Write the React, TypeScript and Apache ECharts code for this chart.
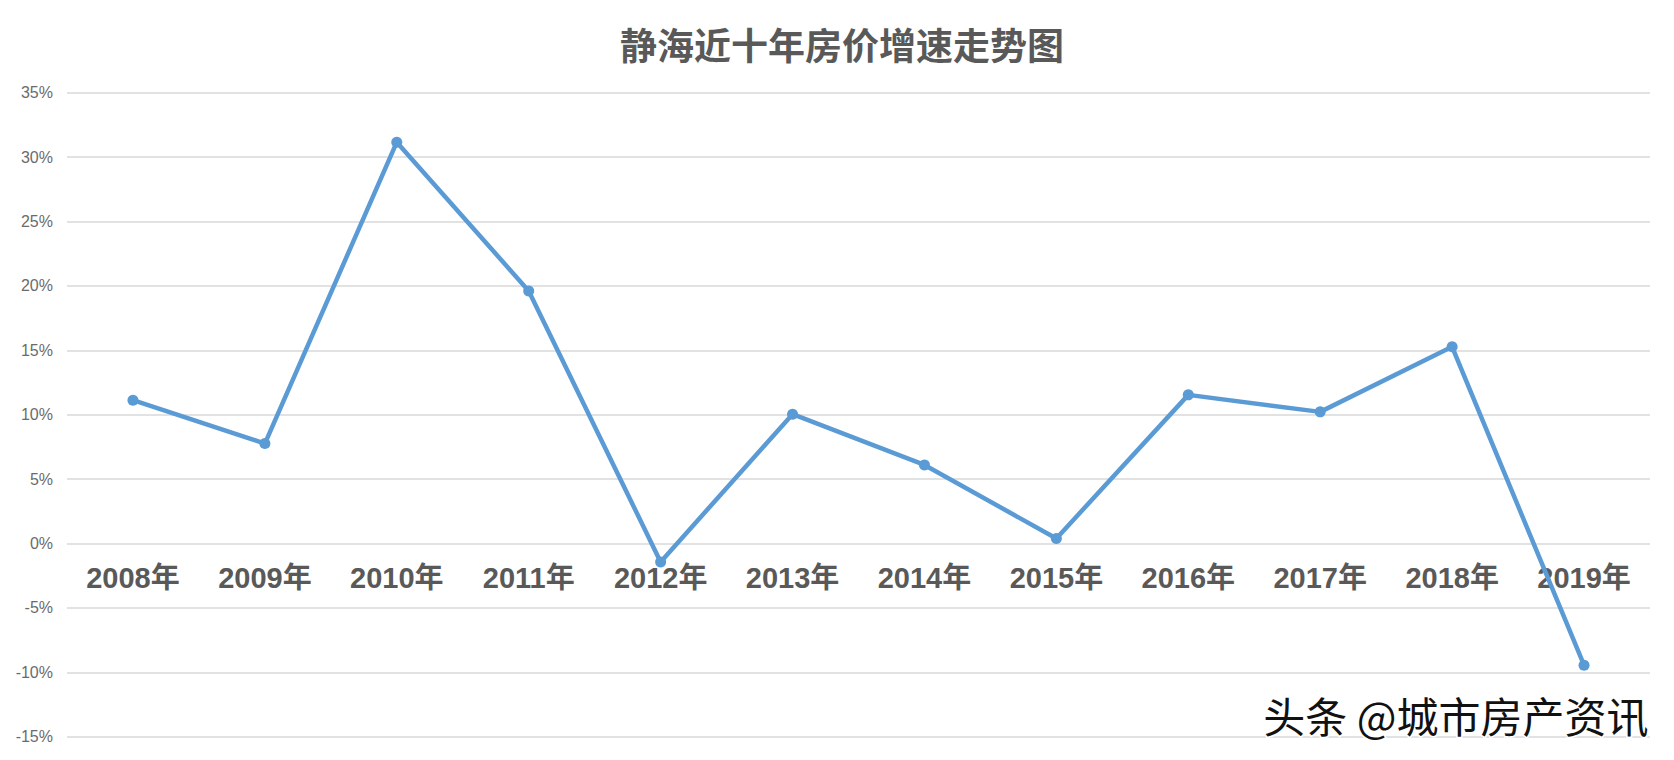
import React, { useEffect, useRef } from "react";
import * as echarts from "echarts";

const categories = ["2008年", "2009年", "2010年", "2011年", "2012年", "2013年", "2014年", "2015年", "2016年", "2017年", "2018年", "2019年"];
const growth = [11.13, 7.76, 31.16, 19.61, -1.43, 10.04, 6.1, 0.39, 11.54, 10.22, 15.27, -9.45];
const yMin = -15;
const yMax = 35;
const yStep = 5;
const titleText = "静海近十年房价增速走势图";
const watermark = "头条 @城市房产资讯";

const GRID_TOP = 92.7;
const GRID_BOTTOM = 23.3;
const CHART_H = 760;

export default function App() {
  const ref = useRef<HTMLDivElement>(null);
  useEffect(() => {
    if (!ref.current) return;
    const chart = echarts.init(ref.current, null, { renderer: "svg" });
    const plotH = CHART_H - GRID_TOP - GRID_BOTTOM;
    const zeroFromBottom = (0 - yMin) / (yMax - yMin) * plotH;
    chart.setOption({
      animation: false,
      backgroundColor: "#ffffff",
      title: {
        text: titleText,
        left: 837,
        textAlign: "center",
        top: 20,
        textStyle: {
          fontFamily: "'Noto Sans CJK SC', sans-serif",
          fontSize: 37,
          fontWeight: "bold",
          color: "#595959",
        },
      },
      grid: { left: 67, right: 24, top: GRID_TOP, bottom: GRID_BOTTOM, containLabel: false, outerBoundsMode: "none" },
      xAxis: {
        type: "category",
        data: categories,
        boundaryGap: true,
        position: "bottom",
        offset: -zeroFromBottom,
        axisLine: { show: false, onZero: false },
        axisTick: { show: false },
        axisLabel: {
          margin: 20,
          fontSize: 29,
          fontWeight: "bold",
          color: "#595959",
          fontFamily: "'Liberation Sans', 'Noto Sans CJK SC', sans-serif",
        },
      },
      yAxis: {
        type: "value",
        min: yMin,
        max: yMax,
        interval: yStep,
        axisLine: { show: false },
        axisTick: { show: false },
        axisLabel: {
          formatter: "{value}%",
          margin: 14,
          fontSize: 16,
          color: "#6b6b6b",
          fontFamily: "'Liberation Sans Narrow', 'Liberation Sans', sans-serif",
        },
        splitLine: { lineStyle: { color: "#d9d9d9", width: 1.6 } },
      },
      series: [
        {
          type: "line",
          data: growth,
          symbol: "circle",
          symbolSize: 11,
          itemStyle: { color: "#5B9BD5" },
          lineStyle: { color: "#5B9BD5", width: 4.5 },
          z: 3,
        },
      ],
      graphic: [
        {
          type: "text",
          right: 24,
          top: 692,
          z: 100,
          style: {
            text: watermark,
            fontSize: 42,
            fontFamily: "'Noto Sans CJK SC', sans-serif",
            fill: "#111111",
            stroke: "#ffffff",
            lineWidth: 3,
          },
        },
      ],
    });
    return () => chart.dispose();
  }, []);
  return (
    <div
      ref={ref}
      style={{ position: "fixed", left: 0, top: 0, width: 1674, height: 760, background: "#fff" }}
    />
  );
}
